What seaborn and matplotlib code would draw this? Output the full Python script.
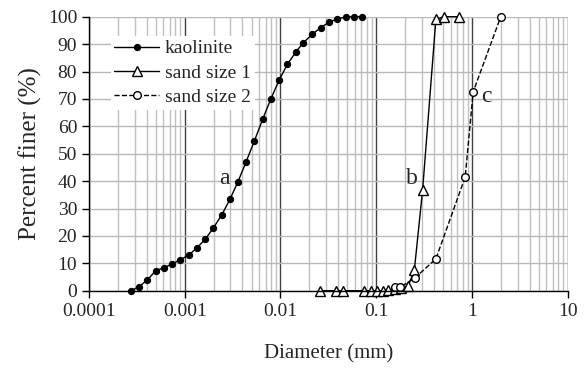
import numpy as np
import pandas as pd
import matplotlib
matplotlib.use("Agg")
import matplotlib.pyplot as plt
import matplotlib.ticker as mticker
import seaborn as sns

# kaolinite (hydrometer)
kao_d = [0.000275, 0.000333, 0.000406, 0.000497, 0.000607, 0.000736, 0.000899,
         0.0011, 0.00133, 0.00164, 0.00199, 0.00243, 0.00297, 0.0036, 0.00436,
         0.00533, 0.00652, 0.00796, 0.0097, 0.0118, 0.0144, 0.0173, 0.0215,
         0.0263, 0.0321, 0.0392, 0.048, 0.0586, 0.0705]
kao_p = [0.0, 1.5, 3.9, 7.3, 8.4, 9.7, 11.3, 13.0, 15.5, 18.8, 22.9, 27.6, 33.4,
         39.8, 46.9, 54.6, 62.6, 70.1, 76.9, 82.6, 87.0, 90.5, 93.6, 96.0, 98.0,
         99.2, 99.9, 100.0, 100.0]

# sand size 1
s1_d = [0.026, 0.038, 0.045, 0.075, 0.088, 0.102, 0.117, 0.134, 0.157, 0.181,
        0.216, 0.25, 0.305, 0.42, 0.51, 0.73]
s1_p = [0.0, 0.0, 0.0, 0.0, 0.0, 0.0, 0.0, 0.3, 0.6, 1.0, 1.8, 7.4, 36.6, 99.0,
        100.0, 100.0]

# sand size 2
s2_d = [0.157, 0.178, 0.254, 0.42, 0.85, 1.03, 2.0]
s2_p = [1.4, 1.3, 4.7, 11.6, 41.5, 72.6, 100.0]

labels = ["kaolinite", "sand size 1", "sand size 2"]

sns.set_style("white")
plt.rcParams["font.family"] = ["Liberation Serif", "DejaVu Serif"]

fig = plt.figure(figsize=(5.87, 3.68), dpi=100)
ax = fig.add_axes([0.1516, 0.21, 0.8155, 0.7446])

ax.set_xscale("log")
ax.set_xlim(0.0001, 10)
ax.set_ylim(0, 100)

# grid
ax.xaxis.set_minor_locator(mticker.LogLocator(base=10, subs=np.arange(2, 10)))
ax.grid(which="minor", axis="x", color="#c0c0c0", lw=1)
ax.grid(which="major", axis="x", color="#404040", lw=1)
ax.grid(which="major", axis="y", color="#b8b8b8", lw=1)
ax.set_axisbelow(True)

sns.lineplot(x=kao_d, y=kao_p, ax=ax, color="black", lw=1, marker="o",
             markersize=4.5, markerfacecolor="black", markeredgecolor="black",
             label=labels[0], sort=False, clip_on=False)
sns.lineplot(x=s1_d, y=s1_p, ax=ax, color="black", lw=1, marker="^",
             markersize=7, markerfacecolor="white", markeredgecolor="black",
             markeredgewidth=1, label=labels[1], sort=False, clip_on=False)
sns.lineplot(x=s2_d, y=s2_p, ax=ax, color="black", lw=1, linestyle="--",
             marker="o", markersize=5.5, markerfacecolor="white",
             markeredgecolor="black", markeredgewidth=1, label=labels[2],
             sort=False, clip_on=False)

ax.set_yticks(np.arange(0, 101, 10))
ax.xaxis.set_major_locator(mticker.FixedLocator([0.0001, 0.001, 0.01, 0.1, 1, 10]))
ax.set_xticklabels(["0.0001", "0.001", "0.01", "0.1", "1", "10"])
ax.tick_params(axis="both", which="major", direction="out", length=5,
               width=1, color="black", labelsize=14, bottom=True, left=True)
ax.tick_params(axis="x", which="minor", length=0)

for s in ["top", "right"]:
    ax.spines[s].set_visible(False)
for s in ["left", "bottom"]:
    ax.spines[s].set_color("black")
    ax.spines[s].set_linewidth(1)

ax.set_xlabel("Diameter (mm)", fontsize=15, labelpad=18)
ax.set_ylabel("Percent finer (%)", fontsize=18, labelpad=4)

ax.text(0.00297, 41, "a", fontsize=17, ha="right", va="center")
ax.text(0.273, 41, "b", fontsize=17, ha="right", va="center")
ax.text(1.24, 70.7, "c", fontsize=17, ha="left", va="center")

leg = ax.legend(loc="upper left", bbox_to_anchor=(0.045, 0.93), fontsize=14,
                frameon=True, framealpha=1, edgecolor="none", fancybox=False,
                handlelength=2.3, labelspacing=0.35, borderpad=0.2,
                handletextpad=0.3, borderaxespad=0)

fig.savefig("out.png", dpi=100)
